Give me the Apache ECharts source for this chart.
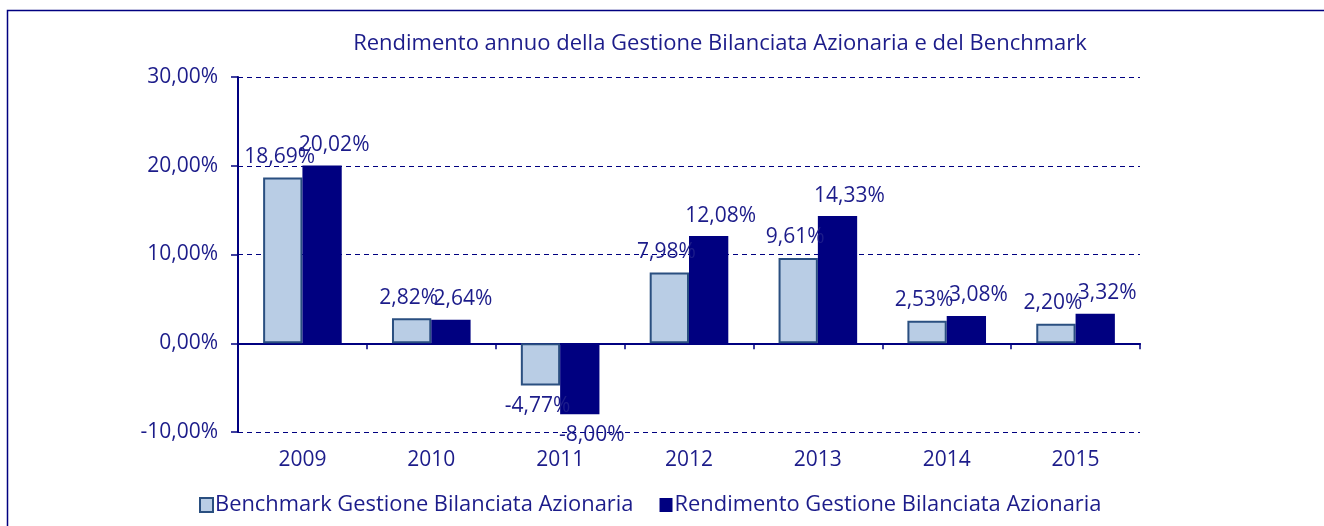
<!DOCTYPE html>
<html>
<head>
<meta charset="utf-8">
<script src="https://cdn.jsdelivr.net/npm/echarts@6/dist/echarts.min.js"></script>
<style>
  html, body { margin: 0; padding: 0; background: #fff; }
  #chart { width: 1324px; height: 526px; }
</style>
</head>
<body>
<div id="chart"></div>
<script>
// dati
const anni = ['2009', '2010', '2011', '2012', '2013', '2014', '2015'];
const benchmark = [18.69, 2.82, -4.77, 7.98, 9.61, 2.53, 2.20];
const rendimento = [20.02, 2.64, -8.00, 12.08, 14.33, 3.08, 3.32];
const nomiSerie = ['Benchmark Gestione Bilanciata Azionaria', 'Rendimento Gestione Bilanciata Azionaria'];

const NAVY = '#000080';
const TESTO = '#1c1c8a';
const FONT = '"Open Sans", "DejaVu Sans", sans-serif';

// formato italiano: 18,69%
function perc(v) {
  return v.toFixed(2).replace('.', ',') + '%';
}

// etichetta sopra (o sotto se negativo)
function conEtichette(valori, dx) {
  return valori.map(v => ({
    value: v,
    label: {
      position: v < 0 ? 'bottom' : 'top',
      offset: [dx, 0]
    }
  }));
}

const chart = echarts.init(document.getElementById('chart'));

// cornice esterna (lati destro e inferiore fuori dall'immagine)
const cornice = {
  type: 'rect',
  shape: { x: 7.5, y: 10.5, width: 1400, height: 600 },
  style: { fill: 'none', stroke: NAVY, lineWidth: 1.5 },
  silent: true
};

const option = {
  animation: false,
  backgroundColor: '#fff',
  title: {
    text: 'Rendimento annuo della Gestione Bilanciata Azionaria e del Benchmark',
    left: 715,
    textAlign: 'center',
    top: 28,
    textStyle: { color: TESTO, fontFamily: FONT, fontSize: 22, fontWeight: 'normal' }
  },
  graphic: [cornice],
  legend: {
    bottom: 5,
    left: 194,
    icon: 'rect',
    itemWidth: 13,
    itemHeight: 14,
    itemGap: 26,
    textStyle: { color: TESTO, fontFamily: FONT, fontSize: 21.9, padding: [0, 0, 0, -3] },
    data: nomiSerie
  },
  grid: { left: 238, right: 184, top: 77, bottom: 94 },
  xAxis: {
    type: 'category',
    data: anni,
    axisLine: { onZero: true, lineStyle: { color: NAVY, width: 2 } },
    axisTick: { show: true, length: 6, lineStyle: { color: NAVY, width: 1.5 } },
    axisLabel: { show: false }
  },
  yAxis: {
    type: 'value',
    min: -10,
    max: 30,
    interval: 10,
    axisLine: { show: true, lineStyle: { color: NAVY, width: 2 } },
    axisTick: { show: true, inside: false, length: 7, lineStyle: { color: NAVY, width: 1.5 } },
    axisLabel: {
      color: TESTO, fontFamily: FONT, fontSize: 21, margin: 20,
      formatter: v => perc(v)
    },
    splitLine: { lineStyle: { color: NAVY, type: [5, 4], width: 1 } }
  },
  series: [
    {
      name: nomiSerie[0],
      type: 'bar',
      barGap: '0%',
      barCategoryGap: '39%',
      data: conEtichette(benchmark, -3),
      itemStyle: { color: '#b9cde5', borderColor: '#2a4f80', borderWidth: 2 },
      label: {
        show: true, distance: 10, color: TESTO, fontFamily: FONT, fontSize: 21,
        formatter: p => perc(p.value)
      }
    },
    {
      name: nomiSerie[1],
      type: 'bar',
      data: conEtichette(rendimento, 12),
      itemStyle: { color: NAVY },
      label: {
        show: true, distance: 10, color: TESTO, fontFamily: FONT, fontSize: 21,
        formatter: p => perc(p.value)
      }
    }
  ]
};

chart.setOption(option);

// etichette degli anni sotto il grafico, sotto la riga -10%
const base = chart.convertToPixel({ yAxisIndex: 0 }, -10);
chart.setOption({
  graphic: [cornice].concat(anni.map(a => ({
    type: 'text',
    x: chart.convertToPixel({ xAxisIndex: 0 }, a),
    y: base + 28,
    style: {
      text: a, fill: TESTO, font: '21px ' + FONT,
      textAlign: 'center', textVerticalAlign: 'middle'
    },
    silent: true
  })))
});
</script>
</body>
</html>
